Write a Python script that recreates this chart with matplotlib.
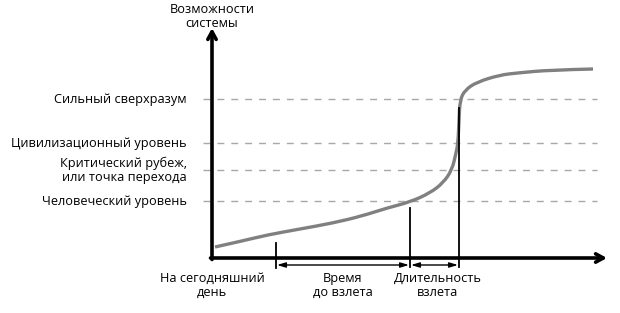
import matplotlib
matplotlib.use("Agg")
import matplotlib.pyplot as plt
from matplotlib.path import Path
from matplotlib.patches import PathPatch

plt.rcParams['font.family'] = ['Open Sans', 'DejaVu Sans']

# capability curve (time, capability)
curve_t = [3, 30, 55, 88, 121, 150, 175, 198, 218, 231, 240, 244, 246, 247, 248, 253, 265, 288, 305, 338, 381]
curve_c = [11, 17, 23, 29, 35, 42, 50, 56, 65, 75, 88, 105, 115, 138, 158, 168, 176, 183, 185, 188, 189]

level_names = ["Сильный сверхразум", "Цивилизационный уровень",
               "Критический рубеж,\nили точка перехода", "Человеческий уровень"]
level_values = [159, 115, 88, 57]

marker_names = ["На сегодняшний\nдень", "Время\nдо взлета", "Длительность\nвзлета"]
t_today = 64
t_start = 198
t_end = 247
c_start_top = 50
c_end_top = 150

FS = 9.2
TC = '#000000'

fig = plt.figure(figsize=(6.2, 3.13), dpi=100)
ax = fig.add_axes([0, 0, 1, 1])
ax.set_xlim(-212, 408)
ax.set_ylim(-55, 258)
ax.axis('off')

# dashed levels
for v in level_values:
    ax.plot([-9, 385], [v, v], color='#a8a8a8', lw=1.0, dashes=(5, 5), zorder=1)
for name, v in zip(level_names, level_values):
    ax.text(-25, v, name, ha='right', va='center', fontsize=FS, color=TC,
            linespacing=1.1)

# axes arrows
ax.annotate('', xy=(0, 230), xytext=(0, -1.5),
            arrowprops=dict(arrowstyle='->,head_length=0.55,head_width=0.3', lw=2.6, color='black',
                            shrinkA=0, shrinkB=0), zorder=5)
ax.annotate('', xy=(395, 0), xytext=(-1.5, 0),
            arrowprops=dict(arrowstyle='->,head_length=0.55,head_width=0.3', lw=2.6, color='black',
                            shrinkA=0, shrinkB=0), zorder=5)

# curve: smooth quadratic path using read points as control points
pts = list(zip(curve_t, curve_c))
verts = [pts[0]]
codes = [Path.MOVETO]
for i in range(1, len(pts) - 1):
    mid = ((pts[i][0] + pts[i + 1][0]) / 2, (pts[i][1] + pts[i + 1][1]) / 2)
    if i == len(pts) - 2:
        mid = pts[-1]
    verts += [pts[i], mid]
    codes += [Path.CURVE3, Path.CURVE3]
ax.add_patch(PathPatch(Path(verts, codes), facecolor='none', edgecolor='#808080',
                       lw=2.4, capstyle='butt', zorder=3))

# markers
ax.plot([t_today, t_today], [15, -10], color='black', lw=1.3, zorder=4)
ax.plot([t_start, t_start], [c_start_top, -9], color='black', lw=1.3, zorder=4)
ax.plot([t_end, t_end], [c_end_top, -9], color='black', lw=1.3, zorder=4)
for a, b in [(t_today, t_start), (t_start, t_end)]:
    ax.annotate('', xy=(b - 1, -7), xytext=(a + 1, -7),
                arrowprops=dict(arrowstyle='<|-|>,head_length=0.5,head_width=0.15', lw=1.0,
                                color='black', shrinkA=0, shrinkB=0), zorder=4)

# texts
ax.text(0, 241.5, "Возможности\nсистемы", ha='center', va='center', fontsize=FS,
        color=TC, linespacing=1.15)
for name, x in zip(marker_names, [0, 131, 226]):
    ax.text(x, -27.5, name, ha='center', va='center', fontsize=FS, color=TC,
            linespacing=1.15)

fig.savefig('out.png', dpi=100)
